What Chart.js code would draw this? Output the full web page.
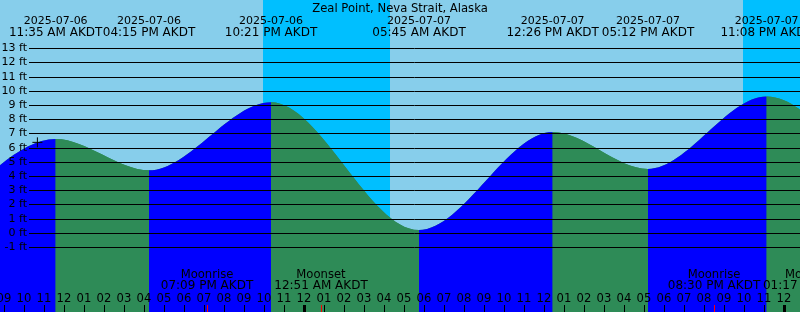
<!DOCTYPE html>
<html lang="en">
<head>
<meta charset="UTF-8">
<title>Zeal Point, Neva Strait, Alaska - Tides</title>
<script src="https://cdn.jsdelivr.net/npm/chart.js"></script>
<style>
    html, body { margin: 0; padding: 0; background: #87ceeb; }
    canvas { display: block; }
</style>
</head>
<body>
<canvas id="tideChart" width="800" height="312"></canvas>
<script>
    // all times are hours counted from 2025-07-06 00:00 AKDT
    const tideHours = [-2.9, 3.8, 11.583, 16.25, 22.35, 29.75, 36.433, 41.2, 47.133, 54.3];
    const tideFeet = [9.0, 0.3, 6.6, 4.4, 9.2, 0.2, 7.1, 4.5, 9.6, 0.0];
    const tideDates = ['', '', '2025-07-06', '2025-07-06', '2025-07-06', '2025-07-07', '2025-07-07', '2025-07-07', '2025-07-07', ''];
    const tideTimes = ['', '', '11:35 AM AKDT', '04:15 PM AKDT', '10:21 PM AKDT', '05:45 AM AKDT', '12:26 PM AKDT', '05:12 PM AKDT', '11:08 PM AKDT', ''];

    const nowHour = 10.67;
    const nowFeet = 6.37;

    const nightStart = [21.95, 45.95];
    const nightEnd = [28.3, 52.3];

    const moonHours = [19.15, 24.85, 44.5, 49.283];
    const moonEvents = ['Moonrise', 'Moonset', 'Moonrise', 'Moonset'];
    const moonTimes = ['07:09 PM AKDT', '12:51 AM AKDT', '08:30 PM AKDT', '01:17 AM AKDT'];

    const feetTicks = [13, 12, 11, 10, 9, 8, 7, 6, 5, 4, 3, 2, 1, 0, -1];
    const hourTicks = [9, 10, 11, 12, 13, 14, 15, 16, 17, 18, 19, 20, 21, 22, 23, 24,
                       25, 26, 27, 28, 29, 30, 31, 32, 33, 34, 35, 36, 37, 38, 39, 40,
                       41, 42, 43, 44, 45, 46, 47, 48];
    const hourLabels = ['09', '10', '11', '12', '01', '02', '03', '04', '05', '06', '07', '08', '09', '10', '11', '12',
                        '01', '02', '03', '04', '05', '06', '07', '08', '09', '10', '11', '12', '01', '02', '03', '04',
                        '05', '06', '07', '08', '09', '10', '11', '12'];

    const SKY = '#87ceeb';
    const NIGHT = '#00bfff';
    const RISING = '#0000ff';
    const FALLING = '#2e8b57';
    const FONT = '11.6px "DejaVu Sans"';
    const FONT_SMALL = '11px "DejaVu Sans"';
    const FONT_WIDE = '12px "DejaVu Sans"';

    const tidePoints = tideHours.map((h, i) => ({ x: h, y: tideFeet[i] }));

    const tideDecor = {
        id: 'tideDecor',
        beforeDraw(chart) {
            const { ctx, width, height } = chart;
            const x = chart.scales.x;
            ctx.save();
            ctx.fillStyle = SKY;
            ctx.fillRect(0, 0, width, height);
            ctx.fillStyle = NIGHT;
            nightStart.forEach((s, i) => {
                const a = x.getPixelForValue(s);
                const b = x.getPixelForValue(nightEnd[i]);
                ctx.fillRect(a, 0, b - a, height);
            });
            ctx.restore();
        },
        afterDatasetsDraw(chart) {
            const { ctx, width } = chart;
            const x = chart.scales.x;
            const y = chart.scales.y;
            ctx.save();

            // horizontal lines + feet labels
            ctx.strokeStyle = '#000';
            ctx.lineWidth = 1;
            ctx.fillStyle = '#000';
            ctx.font = FONT_SMALL;
            ctx.textAlign = 'right';
            ctx.textBaseline = 'middle';
            feetTicks.forEach(v => {
                const yy = Math.round(y.getPixelForValue(v)) + 0.5;
                ctx.beginPath();
                ctx.moveTo(29, yy);
                ctx.lineTo(width, yy);
                ctx.stroke();
                ctx.fillText(v + ' ft', 27, yy);
            });

            // hour ticks and labels
            ctx.font = FONT;
            ctx.textAlign = 'center';
            ctx.textBaseline = 'alphabetic';
            hourTicks.forEach((h, i) => {
                const xx = Math.round(x.getPixelForValue(h));
                const thick = h % 24 === 0;
                ctx.fillRect(thick ? xx - 1 : xx, 305, thick ? 3 : 1, 7);
                ctx.fillText(hourLabels[i], xx, 302);
            });

            // moon events
            moonHours.forEach((h, i) => {
                const xx = x.getPixelForValue(h);
                ctx.fillStyle = '#ff0000';
                ctx.fillRect(Math.round(xx), 305, 1, 7);
                ctx.fillStyle = '#000';
                ctx.font = FONT;
                ctx.fillText(moonEvents[i], xx, 278);
                ctx.font = FONT_WIDE;
                ctx.fillText(moonTimes[i], xx, 289);
            });

            // high / low labels
            tideHours.forEach((h, i) => {
                if (!tideTimes[i]) return;
                const xx = x.getPixelForValue(h);
                ctx.font = FONT_SMALL;
                ctx.fillText(tideDates[i], xx, 24);
                ctx.font = FONT_WIDE;
                ctx.fillText(tideTimes[i], xx, 36);
            });

            ctx.font = FONT;
            ctx.fillText('Zeal Point, Neva Strait, Alaska', width / 2, 12);
            ctx.restore();
        }
    };

    new Chart(document.getElementById('tideChart'), {
        type: 'line',
        data: {
            datasets: [{
                // rising = blue, falling = green
                data: tidePoints,
                order: 1,
                cubicInterpolationMode: 'monotone',
                fill: 'start',
                borderWidth: 0,
                borderColor: 'transparent',
                backgroundColor: FALLING,
                pointRadius: 0,
                segment: {
                    backgroundColor: c => c.p1.parsed.y > c.p0.parsed.y ? RISING : FALLING
                }
            }, {
                type: 'scatter',
                data: [{ x: nowHour, y: nowFeet }],
                order: 0,
                pointStyle: 'cross',
                pointRadius: 5,
                borderColor: '#000',
                borderWidth: 1
            }, {
                // same curve underneath so the colour seams don't show the sky
                data: tidePoints,
                order: 2,
                cubicInterpolationMode: 'monotone',
                fill: 'start',
                borderWidth: 0,
                borderColor: 'transparent',
                backgroundColor: FALLING,
                pointRadius: 0
            }]
        },
        options: {
            responsive: false,
            animation: false,
            devicePixelRatio: 1,
            layout: { padding: 0, autoPadding: false },
            plugins: {
                legend: { display: false },
                tooltip: { enabled: false },
                title: { display: false }
            },
            scales: {
                x: { type: 'linear', min: 8.8, max: 48.8, display: false },
                y: { type: 'linear', min: -5.577, max: 16.394, display: false }
            }
        },
        plugins: [tideDecor]
    });
</script>
</body>
</html>
